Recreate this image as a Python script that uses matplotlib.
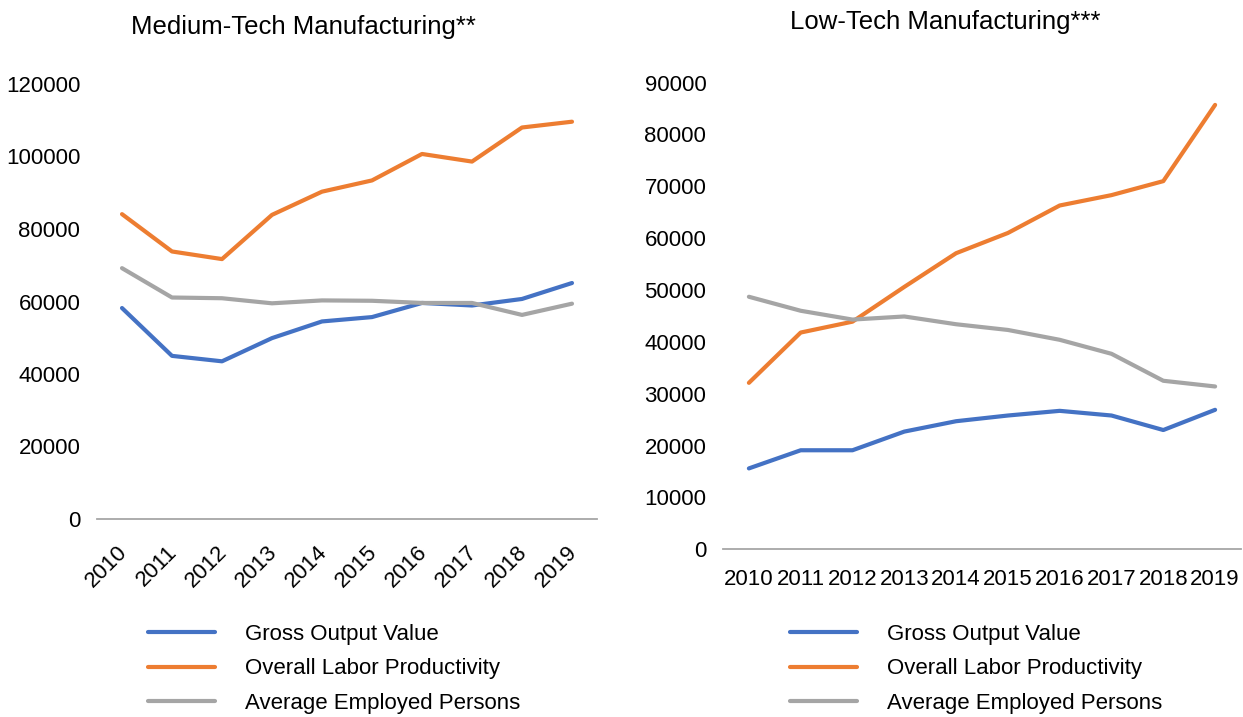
import numpy as np
import matplotlib as mpl
mpl.use("Agg")
from matplotlib import pyplot as plt
from matplotlib.transforms import ScaledTranslation

plt.rcParams['font.family'] = ['Liberation Sans', 'DejaVu Sans']

years = ["2010", "2011", "2012", "2013", "2014", "2015", "2016", "2017", "2018", "2019"]
series_names = ["Gross Output Value", "Overall Labor Productivity", "Average Employed Persons"]
colors = ["#4472C4", "#ED7D31", "#A5A5A5"]

# Medium-Tech Manufacturing
mid_gross = [58200, 45000, 43500, 49900, 54500, 55700, 59600, 58900, 60700, 65100]
mid_prod = [84100, 73800, 71700, 83900, 90300, 93400, 100700, 98600, 108000, 109600]
mid_empl = [69200, 61100, 60900, 59500, 60300, 60200, 59600, 59600, 56300, 59400]

# Low-Tech Manufacturing
low_gross = [15600, 19100, 19100, 22700, 24700, 25800, 26700, 25800, 23000, 26900]
low_prod = [32100, 41800, 43900, 50600, 57100, 61000, 66300, 68300, 71000, 85700]
low_empl = [48700, 46000, 44300, 44900, 43400, 42300, 40400, 37700, 32500, 31400]

W, H = 1243, 717
fig = plt.figure(figsize=(W / 100, H / 100), dpi=100)

def px_axes(left, right, top, bottom):
    return fig.add_axes([left / W, 1 - bottom / H, (right - left) / W, (bottom - top) / H])

def style(ax, ymax, step):
    for s in ["top", "right", "left"]:
        ax.spines[s].set_visible(False)
    ax.spines["bottom"].set_color("#a6a6a6")
    ax.spines["bottom"].set_linewidth(1.3)
    ax.set_ylim(0, ymax)
    ax.set_yticks(np.arange(0, ymax + 1, step))
    ax.set_xlim(-0.5, len(years) - 0.5)
    ax.set_xticks(range(len(years)))
    ax.tick_params(axis="both", length=0, labelsize=16, colors="black")
    ax.tick_params(axis="y", pad=12)

def draw(ax, data):
    lines = []
    for vals, c, name in zip(data, colors, series_names):
        l, = ax.plot(range(len(years)), vals, color=c, lw=3, label=name, solid_capstyle="round")
        lines.append(l)
    return lines

# left panel
ax1 = px_axes(97, 597, 84, 519)
lines = draw(ax1, [mid_gross, mid_prod, mid_empl])
style(ax1, 120000, 20000)
ax1.set_xticklabels(years, rotation=45, ha="right", va="top", rotation_mode="anchor")
ax1.tick_params(axis="x", pad=16)
shift = ScaledTranslation(-5 / 100, 0, fig.dpi_scale_trans)
for lab in ax1.get_xticklabels():
    lab.set_transform(lab.get_transform() + shift)
fig.text(303 / W, 1 - 27 / H, "Medium-Tech Manufacturing**", ha="center", va="center", fontsize=18.5)

# right panel
ax2 = px_axes(723, 1241, 82.6, 549.3)
draw(ax2, [low_gross, low_prod, low_empl])
style(ax2, 90000, 10000)
ax2.set_xticklabels(years)
ax2.tick_params(axis="x", pad=14)
fig.text(945 / W, 1 - 22 / H, "Low-Tech Manufacturing***", ha="center", va="center", fontsize=18.5)

for x0 in (148, 790):
    fig.legend(handles=lines, loc="upper left", bbox_to_anchor=(x0 / W, 1 - 624 / H),
               frameon=False, fontsize=16, handlelength=3.0, handletextpad=1.35,
               labelspacing=0.6, borderpad=0, borderaxespad=0)

fig.savefig("out.png", dpi=100)
